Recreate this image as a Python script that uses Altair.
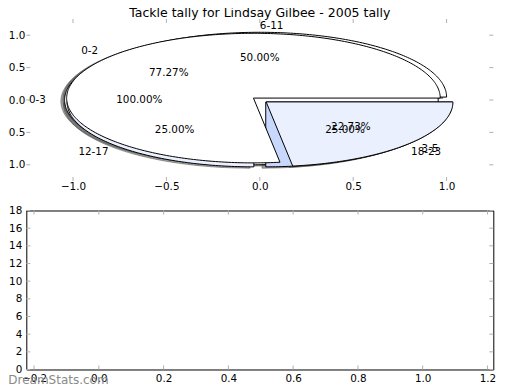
import altair as alt
import numpy as np
import pandas as pd

# ---------------- data ----------------
# three pies overlaid on the same axes, drawn in this order
slice_labels = ["0-3", "6-11", "12-17", "18-23", "0-2", "3-5"]
slice_pcts = [100.0, 50.0, 25.0, 25.0, 77.27, 22.73]
slice_pie = [1, 2, 2, 2, 3, 3]
slice_explode = [0.045, 0.045, 0.045, 0.045, 0.045, 0.045]

pie_ticks = [-1.0, -0.5, 0.0, 0.5, 1.0]
pie_range = [-1.25, 1.25]

bar_xticks = [-0.2, 0.0, 0.2, 0.4, 0.6, 0.8, 1.0, 1.2]
bar_yticks = [0, 2, 4, 6, 8, 10, 12, 14, 16, 18]
bar_xrange = [-0.224, 1.218]
bar_yrange = [0, 18]

TITLE = "Tackle tally for Lindsay Gilbee - 2005 tally"
WATERMARK = "DreamStats.com"

# ---------------- style ----------------
FONT = "DejaVu Sans"
W, H1, H2 = 467, 162, 159
LIGHT, DARK = "#eaf0fe", "#c8d8fc"
TICK = "#b0b0b0"
FS = 10.4

# ---------------- pie layout (start at 0 deg, counter-clockwise, r=1) ----------------
poly, labels = [], []
wid = 0
for pie in sorted(set(slice_pie)):
    idx = [i for i, p in enumerate(slice_pie) if p == pie]
    total = sum(slice_pcts[i] for i in idx)
    t1 = 0.0
    for k, i in enumerate(idx):
        t2 = t1 + 360.0 * slice_pcts[i] / total
        mid = np.deg2rad((t1 + t2) / 2)
        c, s = np.cos(mid), np.sin(mid)
        cx, cy = slice_explode[i] * c, slice_explode[i] * s
        angs = np.deg2rad(np.linspace(t1, t2, int(abs(t2 - t1)) + 2))
        pts = [(cx + np.cos(a), cy + np.sin(a)) for a in angs]
        if t2 - t1 < 359.999:
            pts = [(cx, cy)] + pts + [(cx, cy)]
        for j, (x, y) in enumerate(pts):
            poly.append(dict(wid=wid, pie=pie, ci=k, i=j, x=x, y=y))
        labels.append(dict(pie=pie, text=slice_labels[i], x=cx + 1.1 * c, y=cy + 1.1 * s,
                           side="left" if c > 0 else "right"))
        labels.append(dict(pie=pie, text=f"{slice_pcts[i]:.2f}%", x=cx + 0.6 * c, y=cy + 0.6 * s,
                           side="center"))
        wid += 1
        t1 = t2

poly_df = pd.DataFrame(poly)
lab_df = pd.DataFrame(labels)

# ---------------- top panel: pies ----------------
xs = alt.Scale(domain=pie_range, nice=False, zero=False)
ys = alt.Scale(domain=pie_range, nice=False, zero=False)
pax_x = alt.Axis(values=pie_ticks, format=".1f", ticks=False, domain=False, grid=False,
                 labelPadding=0.5, title=None)
pax_y = alt.Axis(values=pie_ticks, format=".1f", ticks=False, domain=False, grid=False,
                 labelPadding=1.5, title=None)


def PX(f):
    return alt.X(f"{f}:Q", scale=xs, axis=pax_x)


def PY(f):
    return alt.Y(f"{f}:Q", scale=ys, axis=pax_y)


shadow = alt.Chart(poly_df).transform_calculate(
    sx="datum.x - 0.02", sy="datum.y - 0.02"
).mark_line(fill="#4d4d4d", stroke="#4d4d4d", fillOpacity=0.5, strokeOpacity=0.5,
            strokeWidth=1).encode(x=PX("sx"), y=PY("sy"), detail="wid:N", order="i:Q")

fill_scale = alt.Scale(domain=[0, 1, 2], range=["white", LIGHT, DARK])


def wedges(p):
    return alt.Chart(poly_df).transform_filter(alt.datum.pie == p).mark_line(
        stroke="black", strokeWidth=1, strokeJoin="round"
    ).encode(x=PX("x"), y=PY("y"), detail="wid:N", order="i:Q",
             fill=alt.Fill("ci:N", scale=fill_scale, legend=None))


def texts(side):
    return alt.Chart(lab_df).transform_filter(alt.datum.side == side).mark_text(
        align=side, baseline="middle", font=FONT, fontSize=FS, color="black"
    ).encode(x=PX("x"), y=PY("y"), text="text:N")


pt = pd.DataFrame({"v": pie_ticks})
p_top = alt.Chart(pt).mark_rule(color=TICK).encode(x=PX("v"), y=alt.value(0), y2=alt.value(4))
p_bot = alt.Chart(pt).mark_rule(color=TICK).encode(x=PX("v"), y=alt.value(H1), y2=alt.value(H1 - 4))
p_left = alt.Chart(pt).mark_rule(color=TICK).encode(y=PY("v"), x=alt.value(0), x2=alt.value(4))
p_right = alt.Chart(pt).mark_rule(color=TICK).encode(y=PY("v"), x=alt.value(W), x2=alt.value(W - 4))

title = alt.Chart(pd.DataFrame({"t": [TITLE]})).mark_text(
    align="center", baseline="alphabetic", font=FONT, fontSize=12.5, color="black"
).encode(x=alt.value(W / 2), y=alt.value(-2), text="t:N")

top = alt.layer(
    p_top, p_bot, p_left, p_right, shadow, wedges(1), wedges(2), wedges(3),
    texts("left"), texts("right"), texts("center"), title
).properties(
    width=W, height=H1,
    view=alt.ViewBackground(stroke=None),
)

# ---------------- bottom panel: empty axes ----------------
bxs = alt.Scale(domain=bar_xrange, nice=False, zero=False)
bys = alt.Scale(domain=bar_yrange, nice=False, zero=False)
bax_x = alt.Axis(values=bar_xticks, format=".1f", ticks=False, domain=False, grid=False,
                 labelPadding=4, title=None)
bax_y = alt.Axis(values=bar_yticks, format="d", ticks=False, domain=False, grid=False,
                 labelPadding=4.5, title=None)

bxt = pd.DataFrame({"v": bar_xticks})
byt = pd.DataFrame({"v": bar_yticks})
BX = alt.X("v:Q", scale=bxs, axis=bax_x)
BY = alt.Y("v:Q", scale=bys, axis=bax_y)
b_top = alt.Chart(bxt).mark_rule(color=TICK).encode(x=BX, y=alt.value(0), y2=alt.value(4))
b_bot = alt.Chart(bxt).mark_rule(color=TICK).encode(x=BX, y=alt.value(H2), y2=alt.value(H2 - 4))
b_left = alt.Chart(byt).mark_rule(color=TICK).encode(y=BY, x=alt.value(0), x2=alt.value(4))
b_right = alt.Chart(byt).mark_rule(color=TICK).encode(y=BY, x=alt.value(W), x2=alt.value(W - 4))

wm = alt.Chart(pd.DataFrame({"t": [WATERMARK]})).mark_text(
    align="left", baseline="middle", font=FONT, fontSize=12, color="#8a8a8a"
).encode(x=alt.value(-18), y=alt.value(H2 + 11), text="t:N")

bottom = alt.layer(b_top, b_bot, b_left, b_right, wm).properties(
    width=W, height=H2,
    view=alt.ViewBackground(stroke="black", strokeWidth=1),
)

chart = alt.vconcat(top, bottom, spacing=29.5, bounds="flush").properties(
    padding={"left": -8.7, "top": -1, "right": 5, "bottom": 5},
    background="white",
).configure(font=FONT).configure_axis(
    labelFont=FONT, labelFontSize=FS, labelColor="black"
)

chart.save("out.html", embed_options={"renderer": "svg", "actions": False})
